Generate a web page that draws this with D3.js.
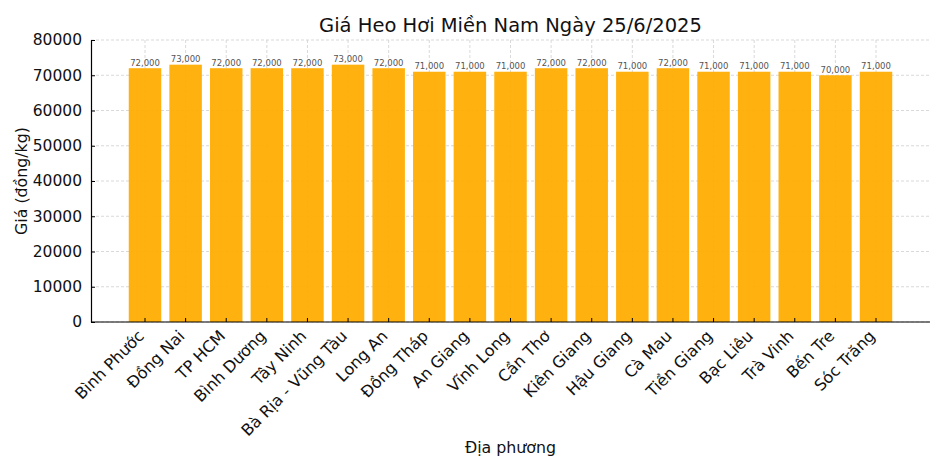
<!DOCTYPE html>
<html><head><meta charset="utf-8">
<script src="https://cdn.jsdelivr.net/npm/d3@7"></script>
<style>body{margin:0;background:#fff;} svg{display:block;font-family:"DejaVu Sans",sans-serif;}</style>
</head><body><svg id="c" width="945" height="472"></svg>
<script>
const categories = ["Bình Phước","Đồng Nai","TP HCM","Bình Dương","Tây Ninh","Bà Rịa - Vũng Tàu","Long An","Đồng Tháp","An Giang","Vĩnh Long","Cần Thơ","Kiên Giang","Hậu Giang","Cà Mau","Tiền Giang","Bạc Liêu","Trà Vinh","Bến Tre","Sóc Trăng"];
const prices = [72000,73000,72000,72000,72000,73000,72000,71000,71000,71000,72000,72000,71000,72000,71000,71000,71000,70000,71000];
const yTicks = [0,10000,20000,30000,40000,50000,60000,70000,80000];
const title = "Giá Heo Hơi Miền Nam Ngày 25/6/2025";
const xLabel = "Địa phương";
const yLabel = "Giá (đồng/kg)";

const svg = d3.select("#c");
const L = 91, R = 930, T = 40, B = 322;
const x = d3.scaleBand().domain(categories).range([L, R]).paddingInner(0.2).paddingOuter(0.93);
const y = d3.scaleLinear().domain([0, 80000]).range([B, T]);

// grid
const grid = svg.append("g").attr("stroke", "#cfcfcf").attr("stroke-width", 0.8).attr("stroke-dasharray", "3,2");
grid.selectAll(".h").data(yTicks).join("line")
  .attr("x1", L).attr("x2", R).attr("y1", d => y(d)).attr("y2", d => y(d));
grid.selectAll(".v").data(categories).join("line")
  .attr("x1", d => x(d) + x.bandwidth()/2).attr("x2", d => x(d) + x.bandwidth()/2).attr("y1", T).attr("y2", B);

// bars
svg.append("g").selectAll("rect").data(prices).join("rect")
  .attr("x", (d,i) => x(categories[i])).attr("width", x.bandwidth())
  .attr("y", d => y(d)).attr("height", d => B - y(d))
  .attr("fill", "#ffad00").attr("fill-opacity", 0.94);

// value labels
svg.append("g").selectAll("text").data(prices).join("text")
  .attr("x", (d,i) => x(categories[i]) + x.bandwidth()/2).attr("y", d => y(d) - 2.5)
  .attr("text-anchor", "middle").attr("font-size", 8.5).attr("fill", "#555")
  .text(d => d3.format(",")(d));

// axes
const yAxis = svg.append("g").attr("transform", `translate(${L},0)`)
  .call(d3.axisLeft(y).tickValues(yTicks).tickFormat(d3.format("d")).tickSizeInner(-4).tickSizeOuter(0).tickPadding(9));
yAxis.select(".domain").attr("stroke", "#000").attr("stroke-width", 1.2);
yAxis.selectAll("text").attr("font-size", 15.5).attr("fill", "#111").attr("font-family", "DejaVu Sans");

const xAxis = svg.append("g").attr("transform", `translate(0,${B})`)
  .call(d3.axisBottom(x).tickSizeInner(-4).tickSizeOuter(0));
xAxis.select(".domain").attr("stroke", "#000").attr("stroke-width", 1.2).attr("d", `M${L},0H${R}`);
xAxis.selectAll(".tick text")
  .attr("font-size", 16).attr("fill", "#111").attr("font-family", "DejaVu Sans")
  .attr("text-anchor", "end").attr("dy", null).attr("y", 0)
  .attr("transform", "translate(0,15) rotate(-45)");

// titles
svg.append("text").attr("x", (L+R)/2).attr("y", 32).attr("text-anchor", "middle")
  .attr("font-size", 19.5).attr("fill", "#111").text(title);
svg.append("text").attr("x", (L+R)/2).attr("y", 453).attr("text-anchor", "middle")
  .attr("font-size", 15.8).attr("fill", "#111").text(xLabel);
svg.append("text").attr("transform", `translate(27,${(T+B)/2}) rotate(-90)`).attr("text-anchor", "middle")
  .attr("font-size", 15.8).attr("fill", "#111").text(yLabel);
</script></body></html>
